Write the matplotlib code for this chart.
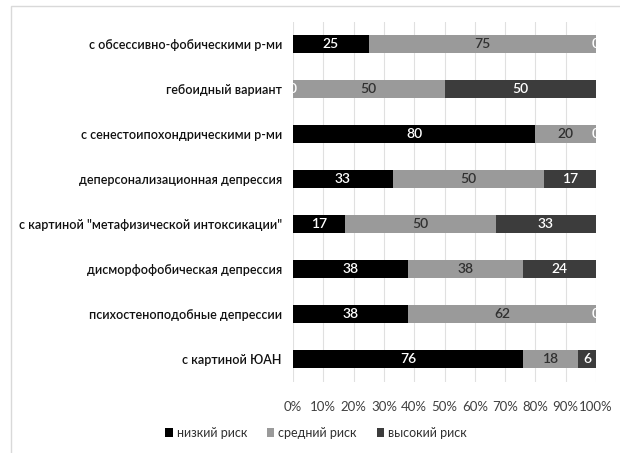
import matplotlib
matplotlib.use("Agg")
import matplotlib.pyplot as plt
from matplotlib.patches import Rectangle
import numpy as np

categories = [
    'с обсессивно-фобическими р-ми',
    'гебоидный вариант',
    'с сенестоипохондрическими р-ми',
    'деперсонализационная депрессия',
    'с картиной "метафизической интоксикации"',
    'дисморфофобическая депрессия',
    'психостеноподобные депрессии',
    'с картиной ЮАН',
]
low_risk = [25, 0, 80, 33, 17, 38, 38, 76]
mid_risk = [75, 50, 20, 50, 50, 38, 62, 18]
high_risk = [0, 50, 0, 17, 33, 24, 0, 6]
series_names = ['низкий риск', 'средний риск', 'высокий риск']

colors = ['#000000', '#9a9a9a', '#3c3c3c']
text_colors = ['white', '#303030', 'white']

plt.rcParams['font.family'] = ['Lato', 'DejaVu Sans']

fig = plt.figure(figsize=(6.2, 4.53), dpi=100)
fig.patches.append(Rectangle((11 / 620, -0.1), 1.1, 1 - 6 / 453 + 0.1,
                             transform=fig.transFigure, fill=False,
                             edgecolor='#d9d9d9', linewidth=1.0))
ax = fig.add_axes([293 / 620, 1 - 381.5 / 453, 303 / 620, 360 / 453])

y = np.arange(len(categories))
left = np.zeros(len(categories))
for vals, name, col, tcol in zip([low_risk, mid_risk, high_risk],
                                 series_names, colors, text_colors):
    vals = np.array(vals, dtype=float)
    ax.barh(y, vals, left=left, height=0.4, color=col, label=name, zorder=3)
    for yi, v, l in zip(y, vals, left):
        t = ax.text(l + v / 2, yi, f'{v:.0f}', ha='center', va='center',
                    color=tcol, fontsize=10, fontweight='semibold', zorder=4)
        if v == 0:
            t.set_clip_on(True)
    left += vals

ax.set_xlim(0, 100)
ax.set_ylim(len(categories) - 0.5, -0.5)
ax.set_xticks(np.arange(0, 101, 10))
ax.set_xticklabels([f'{v}%' for v in range(0, 101, 10)], fontsize=9.5, color='#404040')
ax.set_yticks(y)
ax.set_yticklabels(categories, fontsize=9, color='#101010', fontweight='semibold')
ax.tick_params(length=0)
ax.tick_params(axis='x', pad=14)
ax.tick_params(axis='y', pad=8)
ax.grid(axis='x', color='#e0e0e0', linewidth=0.8, zorder=0)
for s in ax.spines.values():
    s.set_visible(False)

fig.legend(loc='center', bbox_to_anchor=(316 / 620, 1 - 433 / 453), ncol=3,
           frameon=False, fontsize=9, handlelength=0.6, handleheight=0.8,
           handletextpad=0.3, columnspacing=1.6, labelcolor='#303030')

fig.savefig('out.png', dpi=100)
